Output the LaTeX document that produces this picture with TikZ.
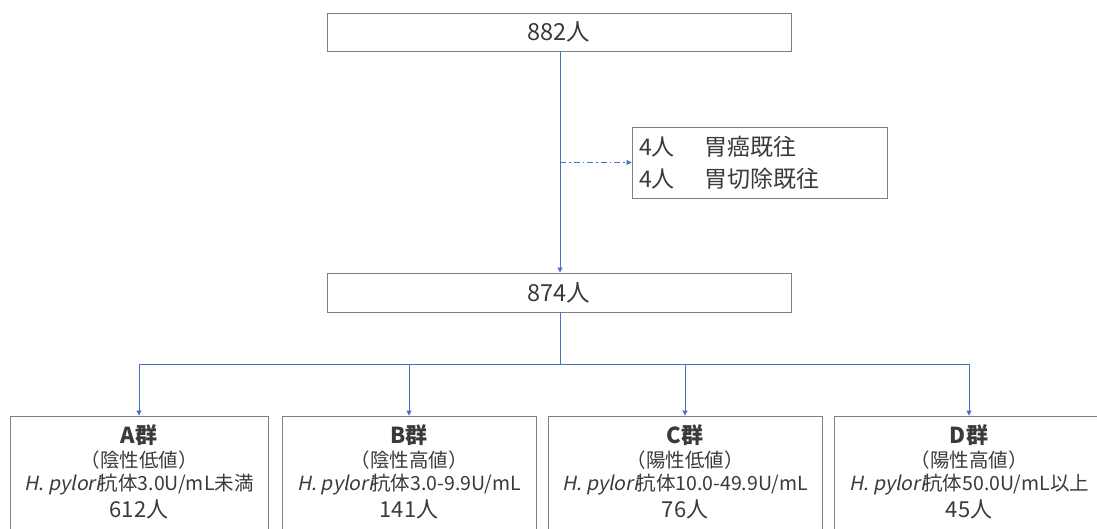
\documentclass[tikz,border=0pt]{standalone}
\usepackage{fontspec}
\setmainfont{Noto Sans CJK JP}
\newfontfamily\slantfont[FakeSlant=0.2]{Noto Sans CJK JP}
\usetikzlibrary{arrows.meta}
\definecolor{linkblue}{HTML}{4472C4}
\definecolor{boxgray}{HTML}{7F7F7F}
\definecolor{txt}{HTML}{3A3A3A}
\newcommand{\hp}{{\slantfont H. pylori}\kern-2pt}
\tikzset{
  box/.style={draw=boxgray, line width=0.9pt, fill=white, inner sep=0pt, text=txt},
  lbl/.style={text=txt, inner sep=0pt, align=center, font=\fontsize{19.5}{23.5}\selectfont},
  link/.style={draw=linkblue, line width=0.8pt},
  arr/.style={link, -{Triangle[length=5pt,width=5pt]}},
  dashdotline/.style={link, dash pattern=on 6pt off 3pt on 1.5pt off 3pt}
}
\begin{document}
\begin{tikzpicture}[x=1pt,y=-1pt]
\useasboundingbox (0,0) rectangle (1097,528);
\clip (0,0) rectangle (1097,528);
% top and middle boxes
\node[box, minimum width=464pt, minimum height=38pt, font=\fontsize{23.5}{28}\selectfont] (top) at (559,32) {882人};
\node[box, minimum width=464pt, minimum height=39pt, font=\fontsize{23.5}{28}\selectfont] (mid) at (559,292.5) {874人};
% side box
\node[box, minimum width=255pt, minimum height=71pt] (side) at (759.5,162.5) {};
\node[lbl, align=left, anchor=west, font=\fontsize{23}{32}\selectfont] (sidet) at (639,162.5) {4人\hspace{1.3em}胃癌既往\\4人\hspace{1.3em}胃切除既往};
% groups
\node[box, minimum width=258pt, minimum height=124pt] (A) at (139,478) {};
\node[box, minimum width=254pt, minimum height=124pt] (B) at (409,478) {};
\node[box, minimum width=274pt, minimum height=124pt] (C) at (685,478) {};
\node[box, minimum width=270pt, minimum height=124pt] (D) at (969,478) {};
\node[lbl, anchor=north] (At) at (139,424.5) {{\fontsize{22}{24}\selectfont\bfseries A群}\\（陰性低値）\\\hp 抗体3.0U/mL未満\\[3pt]{\fontsize{22}{26}\selectfont 612人}};
\node[lbl, anchor=north] (Bt) at (409,424.5) {{\fontsize{22}{24}\selectfont\bfseries B群}\\（陰性高値）\\\hp 抗体3.0-9.9U/mL\\[3pt]{\fontsize{22}{26}\selectfont 141人}};
\node[lbl, anchor=north] (Ct) at (685,424.5) {{\fontsize{22}{24}\selectfont\bfseries C群}\\（陽性低値）\\\hp 抗体10.0-49.9U/mL\\[3pt]{\fontsize{22}{26}\selectfont 76人}};
\node[lbl, anchor=north] (Dt) at (969,424.5) {{\fontsize{22}{24}\selectfont\bfseries D群}\\（陽性高値）\\\hp 抗体50.0U/mL以上\\[3pt]{\fontsize{22}{26}\selectfont 45人}};
% connectors
\coordinate (split) at (560,162.5);
\coordinate (j) at (560,364);
\draw[arr] (top.south -| split) -- (mid.north -| split);
\draw[arr, dashdotline] (split) -- (side.west);
\draw[link] (mid.south -| j) -- (j);
\draw[arr] (j) -| (A.north);
\draw[arr] (j) -| (B.north);
\draw[arr] (j) -| (C.north);
\draw[arr] (j) -| (D.north);
\end{tikzpicture}
\end{document}
